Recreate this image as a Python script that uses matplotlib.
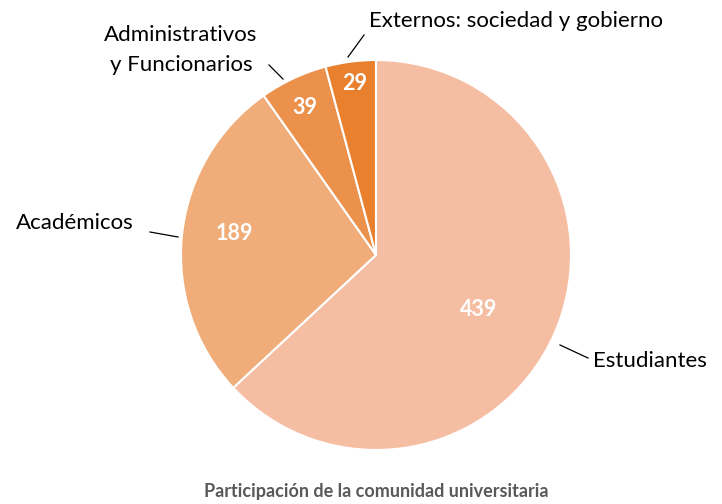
import matplotlib.pyplot as plt
import numpy as np

plt.rcParams['font.family'] = ['Lato', 'DejaVu Sans']

categories = ['Estudiantes', 'Académicos', 'Administrativos\ny Funcionarios',
              'Externos: sociedad y gobierno']
values = [439, 189, 39, 29]
colors = ['#F5BEA3', '#F0AD79', '#EC914C', '#E8802E']

W, H = 722, 504
cx, cy, R = 376, 255, 195

fig = plt.figure(figsize=(W / 100, H / 100), dpi=100)
ax = fig.add_axes([(cx - R) / W, (H - cy - R) / H, 2 * R / W, 2 * R / H])

wedges, texts = ax.pie(values, colors=colors, startangle=90, counterclock=False,
                       radius=1, wedgeprops=dict(edgecolor='white', linewidth=1.5))
ax.set_xlim(-1, 1)
ax.set_ylim(-1, 1)
ax.set_aspect('equal')
ax.axis('off')


def d(px, py):
    return ((px - cx) / R, (cy - py) / R)


# value labels inside
val_pos = [(479, 309), (234, 234), (305, 107), (355, 84)]
for v, p in zip(values, val_pos):
    x, y = d(*p)
    ax.text(x, y, str(v), color='white', fontsize=15.5, fontweight='bold',
            ha='center', va='center')

# outside labels with leader lines
lab_info = [
    # text pos, ha, line start, line end
    ((593, 361), 'left', (560, 345), (588, 358)),
    ((134, 223), 'right', (178, 237), (150, 232)),
    ((181, 50), 'center', (283, 79), (269, 65)),
    ((369, 21), 'left', (348, 57), (364, 35)),
]
for name, (tp, ha, ls, le) in zip(categories, lab_info):
    x0, y0 = d(*ls)
    x1, y1 = d(*le)
    ax.plot([x0, x1], [y0, y1], color='black', lw=0.9, clip_on=False)
    tx, ty = d(*tp)
    ax.text(tx, ty, name, fontsize=16, ha=ha, va='center', color='black',
            linespacing=1.6)

fig.text(cx / W, 1 - 492 / H, 'Participación de la comunidad universitaria',
         ha='center', va='center', fontsize=13, fontweight='bold', color='#595959')

fig.savefig('out.png', dpi=100)
